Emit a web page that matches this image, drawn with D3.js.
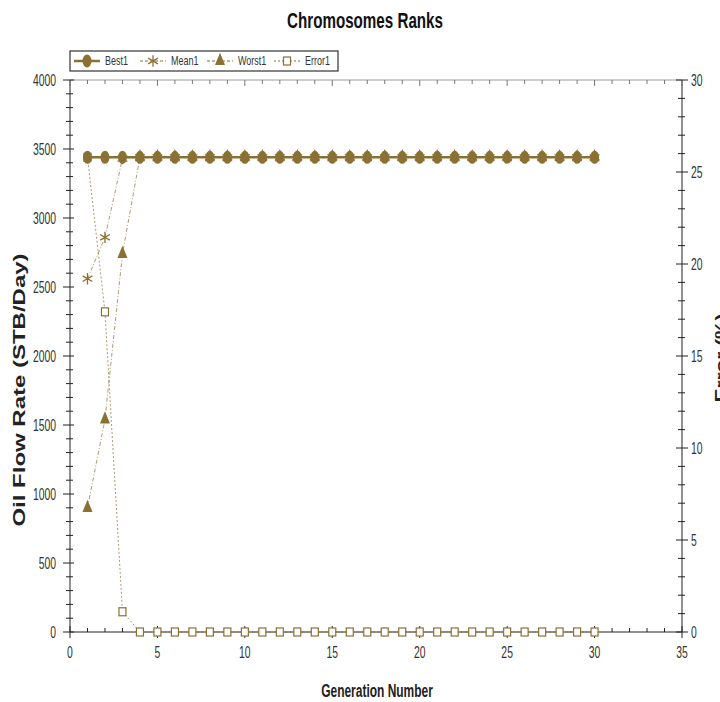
<!DOCTYPE html>
<html>
<head>
<meta charset="utf-8">
<script src="https://cdn.jsdelivr.net/npm/d3@7"></script>
<style>
  body { margin: 0; background: #fff; }
  text { font-family: "Liberation Sans", Arial, sans-serif; }
</style>
</head>
<body>
<script>
// Data
var generations = d3.range(1, 31);
var best1 = [3440,3440,3440,3440,3440,3440,3440,3440,3440,3440,3440,3440,3440,3440,3440,3440,3440,3440,3440,3440,3440,3440,3440,3440,3440,3440,3440,3440,3440,3440];
var mean1 = [2560,2860,3430,3440,3440,3440,3440,3440,3440,3440,3440,3440,3440,3440,3440,3440,3440,3440,3440,3440,3440,3440,3440,3440,3440,3440,3440,3440,3440,3440];
var worst1 = [900,1540,2740,3440,3440,3440,3440,3440,3440,3440,3440,3440,3440,3440,3440,3440,3440,3440,3440,3440,3440,3440,3440,3440,3440,3440,3440,3440,3440,3440];
var error1 = [25.8,17.4,1.1,0,0,0,0,0,0,0,0,0,0,0,0,0,0,0,0,0,0,0,0,0,0,0,0,0,0,0];
var leftTicks = [0,500,1000,1500,2000,2500,3000,3500,4000];
var rightTicks = [0,5,10,15,20,25,30];
var xTicks = [0,5,10,15,20,25,30,35];

var W = 720, H = 702;
var col = "#8a7033";
var pL = 70, pR = 682, pT = 80, pB = 632;

var svg = d3.select("body").append("svg").attr("width", W).attr("height", H);

var x = d3.scaleLinear().domain([0, 35]).range([pL, pR]);
var y = d3.scaleLinear().domain([0, 4000]).range([pB, pT]);
var y2 = d3.scaleLinear().domain([0, 30]).range([pB, pT]);

// narrow text helper (the original uses a condensed face)
function txt(sel, tx, ty, s, size, opts) {
  opts = opts || {};
  return sel.append("text")
    .attr("transform", "translate(" + tx + "," + ty + ")" + (opts.rot ? " rotate(" + opts.rot + ")" : "") +
      " scale(" + (opts.sx || 1) + ",1)")
    .attr("text-anchor", opts.anchor || "start")
    .style("font-size", size + "px")
    .style("font-weight", opts.bold ? "bold" : "normal")
    .attr("fill", opts.fill || "#333")
    .text(s);
}

// Title
txt(svg, 365, 28, "Chromosomes Ranks", 22, { bold: true, sx: 0.69, anchor: "middle", fill: "#111" });

// frame lines
var axisCol = "#222";
svg.append("line").attr("x1", pL).attr("x2", pR).attr("y1", pT).attr("y2", pT).attr("stroke", "#999");
svg.append("line").attr("x1", pL).attr("x2", pR).attr("y1", pB).attr("y2", pB).attr("stroke", axisCol);
svg.append("line").attr("x1", pL).attr("x2", pL).attr("y1", pT).attr("y2", pB).attr("stroke", axisCol);
svg.append("line").attr("x1", pR).attr("x2", pR).attr("y1", pT).attr("y2", pB).attr("stroke", axisCol);

// x ticks (minor every 1, major every 5)
var g = svg.append("g");
d3.range(0, 36).forEach(function (v) {
  var major = v % 5 === 0;
  g.append("line").attr("x1", x(v)).attr("x2", x(v))
    .attr("y1", pB - (major ? 6 : 4)).attr("y2", pB + (major ? 6 : 0)).attr("stroke", axisCol);
  g.append("line").attr("x1", x(v)).attr("x2", x(v))
    .attr("y1", pT).attr("y2", pT + (major ? 6 : 4)).attr("stroke", "#777");
});
xTicks.forEach(function (v) {
  txt(g, x(v), pB + 26, v, 16, { sx: 0.65, anchor: "middle" });
});

// left ticks (minor every 100)
d3.range(0, 4001, 100).forEach(function (v) {
  var major = v % 500 === 0;
  g.append("line").attr("x1", pL - (major ? 7 : 4)).attr("x2", pL + (major ? 4 : 3))
    .attr("y1", y(v)).attr("y2", y(v)).attr("stroke", axisCol);
});
leftTicks.forEach(function (v) {
  txt(g, 56, y(v) + 6, v, 16, { sx: 0.65, anchor: "end" });
});

// right ticks (minor every 1)
d3.range(0, 31, 1).forEach(function (v) {
  var major = v % 5 === 0;
  g.append("line").attr("x1", pR - (major ? 6 : 4)).attr("x2", pR + (major ? 6 : 3))
    .attr("y1", y2(v)).attr("y2", y2(v)).attr("stroke", axisCol);
});
rightTicks.forEach(function (v) {
  txt(g, 691, y2(v) + 6, v, 16, { sx: 0.65, anchor: "start" });
});

// Axis titles (the original is stretched along its length)
txt(svg, 25, 390, "Oil Flow Rate (STB/Day)", 16, { bold: true, rot: -90, sx: 1.5, anchor: "middle", fill: "#222" });
txt(svg, 727, 358, "Error (%)", 16, { bold: true, rot: -90, sx: 1.3, anchor: "middle", fill: "#222" });
txt(svg, 377, 697, "Generation Number", 19, { bold: true, sx: 0.63, anchor: "middle", fill: "#222" });

// Series
function lineFor(vals, sc) {
  return d3.line().x(function (d, i) { return x(generations[i]); }).y(function (d) { return sc(d); })(vals);
}
var plot = svg.append("g");
plot.append("path").attr("d", lineFor(error1, y2)).attr("fill", "none").attr("stroke", col)
  .attr("stroke-width", 1).attr("stroke-dasharray", "2,2").attr("opacity", 0.7);
plot.append("path").attr("d", lineFor(worst1, y)).attr("fill", "none").attr("stroke", col)
  .attr("stroke-width", 1).attr("stroke-dasharray", "4,2,1,2").attr("opacity", 0.7);
plot.append("path").attr("d", lineFor(mean1, y)).attr("fill", "none").attr("stroke", col)
  .attr("stroke-width", 1).attr("stroke-dasharray", "4,2,1,2").attr("opacity", 0.7);
plot.append("path").attr("d", lineFor(best1, y)).attr("fill", "none").attr("stroke", col)
  .attr("stroke-width", 2.5);

function square(sel, cx, cy) {
  sel.append("rect").attr("x", cx - 3.5).attr("y", cy - 4).attr("width", 7).attr("height", 8)
    .attr("fill", "#fff").attr("stroke", col).attr("stroke-width", 1.2);
}
function tri(sel, cx, cy) {
  sel.append("path").attr("d", d3.symbol(d3.symbolTriangle, 60)())
    .attr("transform", "translate(" + cx + "," + cy + ") scale(0.85,1.2)").attr("fill", col);
}
function star(sel, cx, cy) {
  sel.append("path").attr("d", d3.symbol(d3.symbolAsterisk, 90)())
    .attr("transform", "translate(" + cx + "," + cy + ")").attr("fill", "none").attr("stroke", col).attr("stroke-width", 1.3);
}
function dot(sel, cx, cy) {
  sel.append("ellipse").attr("cx", cx).attr("cy", cy).attr("rx", 4.5).attr("ry", 6.5).attr("fill", col);
}

error1.forEach(function (v, i) { square(plot, x(generations[i]), y2(v)); });
worst1.forEach(function (v, i) { tri(plot, x(generations[i]), y(v)); });
mean1.forEach(function (v, i) { star(plot, x(generations[i]), y(v)); });
best1.forEach(function (v, i) { dot(plot, x(generations[i]), y(v)); });

// Legend
var lg = svg.append("g");
lg.append("rect").attr("x", 70).attr("y", 51).attr("width", 268).attr("height", 20)
  .attr("fill", "#fff").attr("stroke", "#333").attr("stroke-width", 1.2);
var items = [
  { name: "Best1", x: 74, draw: dot, dash: null, w: 2.5 },
  { name: "Mean1", x: 140, draw: star, dash: "3,2", w: 1 },
  { name: "Worst1", x: 207, draw: tri, dash: "3,2", w: 1 },
  { name: "Error1", x: 274, draw: square, dash: "2,2", w: 1 }
];
items.forEach(function (it) {
  lg.append("line").attr("x1", it.x).attr("x2", it.x + 26).attr("y1", 61).attr("y2", 61)
    .attr("stroke", col).attr("stroke-width", it.w).attr("stroke-dasharray", it.dash);
  it.draw(lg, it.x + 13, 61);
  txt(lg, it.x + 31, 65, it.name, 12, { sx: 0.75 });
});
</script>
</body>
</html>
